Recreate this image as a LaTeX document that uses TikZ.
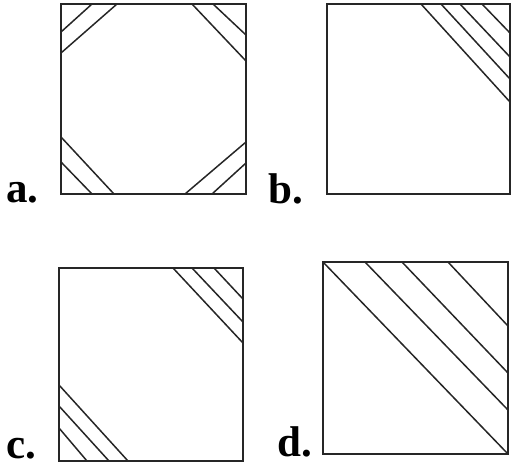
\documentclass[tikz,border=0pt]{standalone}
\usepackage{fontspec}
\setmainfont{Liberation Serif}
\begin{document}
\begin{tikzpicture}[x=1pt,y=-1pt,
  frame/.style={draw=black!85,line width=2pt},
  hatch/.style={draw=black!85,line width=1.5pt},
  lab/.style={anchor=base west,inner sep=0pt,font=\fontsize{43}{43}\selectfont\bfseries}]
\useasboundingbox (0,0) rectangle (511,471);
% square a
\draw[frame] (61,4) rectangle (246,194);
\draw[hatch] (92,4) -- (61,32);
\draw[hatch] (117,4) -- (61,53);
\draw[hatch] (192,4) -- (246,61);
\draw[hatch] (213,4) -- (246,35);
\draw[hatch] (61,137) -- (114,194);
\draw[hatch] (61,162) -- (92,194);
\draw[hatch] (185,194) -- (246,142);
\draw[hatch] (212,194) -- (246,163);
\node[lab] (la) at (6,202) {a.};
% square b
\draw[frame] (327,4) rectangle (510,194);
\draw[hatch] (421,4) -- (510,102);
\draw[hatch] (441,4) -- (510,79);
\draw[hatch] (460,4) -- (510,57);
\draw[hatch] (482,4) -- (510,33);
\node[lab] (lb) at (268,203) {b.};
% square c
\draw[frame] (59,268) rectangle (243,461);
\draw[hatch] (173,268) -- (243,343);
\draw[hatch] (192,268) -- (243,322);
\draw[hatch] (214,268) -- (243,299);
\draw[hatch] (59,385) -- (128,461);
\draw[hatch] (59,406) -- (109,461);
\draw[hatch] (59,428) -- (87,461);
\node[lab] (lc) at (6,458) {c.};
% square d
\draw[frame] (323,262) rectangle (508,454);
\draw[hatch] (323,262) -- (508,454);
\draw[hatch] (365,262) -- (508,410);
\draw[hatch] (402,262) -- (508,373);
\draw[hatch] (448,262) -- (508,326);
\node[lab] (ld) at (277,456) {d.};
\end{tikzpicture}
\end{document}
